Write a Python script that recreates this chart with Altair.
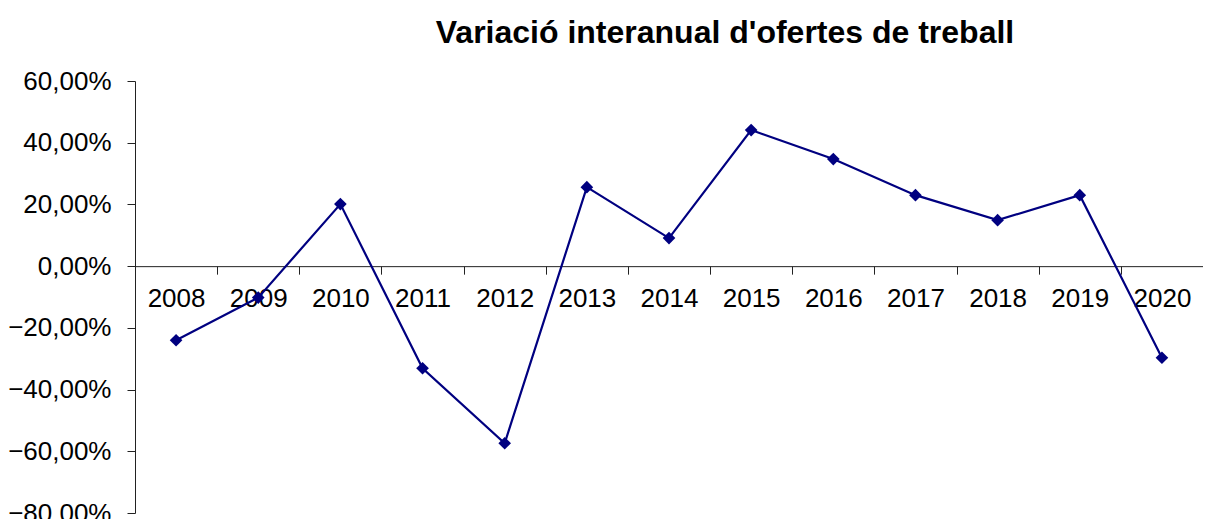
import altair as alt
import pandas as pd

years = ["2008", "2009", "2010", "2011", "2012", "2013", "2014",
         "2015", "2016", "2017", "2018", "2019", "2020"]
values = [-24.0, -10.2, 20.1, -33.1, -57.4, 25.6, 9.1,
          44.1, 34.7, 23.0, 14.9, 23.0, -29.7]
y_ticks = [-80, -60, -40, -20, 0, 20, 40, 60]

df = pd.DataFrame({"year": years, "value": values})

W = 1068
H = 432
y_min, y_max = -80, 60
zero_from_bottom = H * (0 - y_min) / (y_max - y_min)

navy = "#000080"
axis_col = "#222222"

x = alt.X(
    "year:O",
    sort=years,
    bandPosition=0.5,
    scale=alt.Scale(type="band", paddingInner=0, paddingOuter=0),
    axis=alt.Axis(
        title=None,
        orient="bottom",
        offset=-zero_from_bottom,
        tickBand="extent",
        domainColor=axis_col,
        tickColor=axis_col,
        tickSize=8,
        labelPadding=11,
        labelFont="Liberation Sans",
        labelFontSize=26,
        labelColor="black",
        labelAngle=0,
        grid=False,
    ),
)

y = alt.Y(
    "value:Q",
    scale=alt.Scale(domain=[y_min, y_max], nice=False, zero=False),
    axis=alt.Axis(
        title=None,
        values=y_ticks,
        labelExpr="replace(format(datum.value, '.2f'), '.', ',') + '%'",
        domainColor=axis_col,
        tickColor=axis_col,
        tickSize=8,
        labelPadding=16,
        labelFont="Liberation Sans",
        labelFontSize=26,
        labelColor="black",
        grid=False,
    ),
)

line = alt.Chart(df).mark_line(color=navy, strokeWidth=2.2).encode(x=x, y=y)
pts = alt.Chart(df).mark_point(
    shape="diamond", filled=True, size=160, color=navy, opacity=1
).encode(x=x, y=y)

chart = (
    alt.layer(line, pts)
    .properties(
        width=W,
        height=H,
        title=alt.TitleParams(
            "Variació interanual d'ofertes de treball",
            font="Liberation Sans",
            fontSize=32,
            fontWeight="bold",
            color="black",
            anchor="middle",
            dx=56,
            offset=18,
        ),
        autosize=alt.AutoSizeParams(type="none"),
        padding={"left": 127, "top": 73, "right": 0, "bottom": 6},
    )
    .configure_view(stroke=None)
)

chart.save("out.html", embed_options={"renderer": "svg", "actions": False})
